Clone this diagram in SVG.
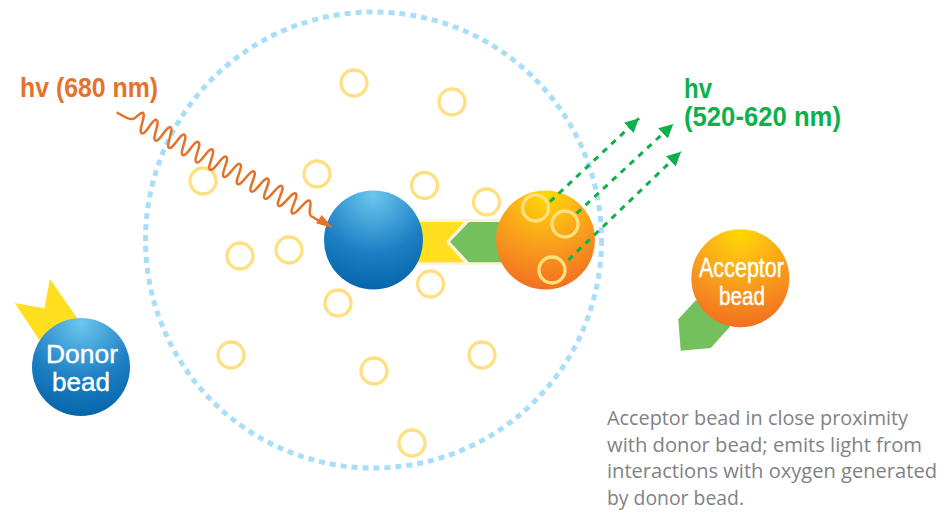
<svg xmlns="http://www.w3.org/2000/svg" width="946" height="513" viewBox="0 0 946 513">
<style>
.bubble{fill:none;stroke:#FFDF80;stroke-width:3.300}
.bubble-in{fill:none;stroke:#FFE07F;stroke-width:3.300}
.lbl{font-family:"Liberation Sans",Arial,sans-serif;fill:#fff;stroke:#fff;stroke-width:0.400;text-anchor:middle}
.hv{font-family:"Liberation Sans",Arial,sans-serif;font-weight:700;font-size:27.500px}
.cap{font-family:"Open Sans","Noto Sans",sans-serif;font-size:20px;fill:#808285}
.photon{fill:none;stroke:#0DB14B;stroke-width:3;stroke-dasharray:6 6;marker-end:url(#ga)}
</style>
<defs>
<radialGradient id="blue" gradientUnits="objectBoundingBox" cx="0.5" cy="0.05" r="0.97">
<stop offset="0" stop-color="#6CC6EE"/><stop offset="0.6" stop-color="#1C7FC4"/><stop offset="1" stop-color="#0464A8"/>
</radialGradient>
<radialGradient id="orange" gradientUnits="objectBoundingBox" cx="0.5" cy="0.03" r="0.97">
<stop offset="0" stop-color="#FFD900"/><stop offset="0.25" stop-color="#FDBE12"/><stop offset="0.65" stop-color="#F7941E"/><stop offset="1" stop-color="#F26F21"/>
</radialGradient>
<marker id="ga" markerUnits="userSpaceOnUse" viewBox="0 0 15 14" refX="14" refY="7" markerWidth="15" markerHeight="14" orient="auto">
<path d="M0,0L14,7L0,14Z" fill="#0DB14B"/>
</marker>
</defs>

<g id="oxygen-range">
<circle cx="373.5" cy="240" r="228" fill="none" stroke="#A8DEFA" stroke-width="5" stroke-dasharray="6 5"/>
</g>

<g id="singlet-oxygen">
<circle class="bubble" cx="354" cy="83" r="13"/>
<circle class="bubble" cx="452" cy="102" r="13"/>
<circle class="bubble" cx="203" cy="181" r="13"/>
<circle class="bubble" cx="317" cy="174" r="13"/>
<circle class="bubble" cx="424.500" cy="185.500" r="13"/>
<circle class="bubble" cx="486.500" cy="202" r="13"/>
<circle class="bubble" cx="240" cy="256" r="13"/>
<circle class="bubble" cx="289" cy="250" r="13"/>
<circle class="bubble" cx="338" cy="303" r="13"/>
<circle class="bubble" cx="430.500" cy="284" r="13"/>
<circle class="bubble" cx="231" cy="355" r="13"/>
<circle class="bubble" cx="374" cy="371" r="13"/>
<circle class="bubble" cx="482" cy="355" r="13"/>
<circle class="bubble" cx="412" cy="443" r="13"/>
</g>

<g id="binding-pair">
<rect x="416" y="219" width="98" height="46" fill="#FDF3D8"/>
<path d="M416,222H464L446,241.700L464,262.300H416Z" fill="#FFDF1F"/>
<path d="M469,222H514V262.300H469L450,241.700Z" fill="#74C05C"/>
</g>

<g id="donor-center"><circle cx="373.500" cy="240" r="49.500" fill="url(#blue)"/></g>
<g id="acceptor-center">
<circle cx="545.500" cy="240" r="49.500" fill="url(#orange)"/>
<circle class="bubble-in" cx="535.500" cy="208" r="13"/>
<circle class="bubble-in" cx="565" cy="224" r="13"/>
<circle class="bubble-in" cx="552" cy="270" r="13"/>
</g>

<g id="connectors">
<path d="M116.700,112.300C122,115 128,120 133,119C137,118 139,112.700 142.700,112.700C146.700,114.700 137.700,131.300 141.700,133.300C145.700,135.300 152.600,118 156.600,120C160.600,122 151.400,138.600 155.400,140.600C159.400,142.600 166.500,125.400 170.500,127.400C174.500,129.400 165.100,145.800 169.100,147.800C173.100,149.800 180.400,132.700 184.400,134.700C188.400,136.700 178.800,153.100 182.800,155.100C186.800,157.100 194.300,140 198.300,142C202.300,144 192.500,160.400 196.500,162.400C200.500,164.400 208.200,147.400 212.200,149.400C216.200,151.400 206.200,167.700 210.200,169.700C214.200,171.700 222.100,154.700 226.100,156.700C230.100,158.700 219.900,174.900 223.900,176.900C227.900,178.900 236,162 240,164C244,166 233.600,182.200 237.600,184.200C241.600,186.200 249.900,169.400 253.900,171.400C257.900,173.400 247.300,189.500 251.300,191.500C255.300,193.500 263.800,176.700 267.800,178.700C271.800,180.700 261,196.700 265,198.700C269,200.700 277.700,184 281.700,186C285.700,188 274.700,204 278.700,206C282.700,208 291.600,191.400 295.600,193.400C299.600,195.400 288.400,211.300 292.400,213.300C296.400,215.300 305.500,198.700 309.500,200.700C313,202.500 307,213 311,216L321,222" fill="none" stroke="#E5722A" stroke-width="2.500"/>
<path d="M333.300,228.300L321.700,215L316,223.300Z" fill="#E5722A"/>
<path class="photon" d="M550,201.700L639,118.300"/>
<path class="photon" d="M576.700,213.300L673.300,124"/>
<path class="photon" d="M568.300,260L681,151.700"/>
</g>

<g id="donor-bead">
<path d="M14.700,303L44.300,308.300L50,279L77.300,318.300L39.300,340Z" fill="#FFDF1F"/>
<circle cx="81" cy="367" r="49" fill="url(#blue)"/>
<text class="lbl" x="82" y="362.500" font-size="25.500" textLength="72" lengthAdjust="spacingAndGlyphs">Donor</text>
<text class="lbl" x="81" y="391" font-size="25.500" textLength="58" lengthAdjust="spacingAndGlyphs">bead</text>
</g>

<g id="acceptor-bead">
<path d="M696,300L678.300,319.300L680.700,350.700L710.700,348L730,326.700Z" fill="#74C05C"/>
<circle cx="740.300" cy="278.300" r="49" fill="url(#orange)"/>
<text class="lbl" x="741.500" y="276.500" font-size="27" textLength="85" lengthAdjust="spacingAndGlyphs">Acceptor</text>
<text class="lbl" x="742" y="304.500" font-size="26" textLength="46" lengthAdjust="spacingAndGlyphs">bead</text>
</g>

<g id="labels">
<text class="hv" x="20" y="97" fill="#E5722A" textLength="138" lengthAdjust="spacingAndGlyphs">hv (680 nm)</text>
<text class="hv" x="684" y="98" fill="#0DB14B" textLength="28" lengthAdjust="spacingAndGlyphs">hv</text>
<text class="hv" x="684" y="126" fill="#0DB14B" textLength="157" lengthAdjust="spacingAndGlyphs">(520-620 nm)</text>
<text class="cap" x="607" y="425" textLength="301" lengthAdjust="spacingAndGlyphs">Acceptor bead in close proximity</text>
<text class="cap" x="607" y="452" textLength="315" lengthAdjust="spacingAndGlyphs">with donor bead; emits light from</text>
<text class="cap" x="607" y="478" textLength="330" lengthAdjust="spacingAndGlyphs">interactions with oxygen generated</text>
<text class="cap" x="607" y="505" textLength="137" lengthAdjust="spacingAndGlyphs">by donor bead.</text>
</g>
</svg>
